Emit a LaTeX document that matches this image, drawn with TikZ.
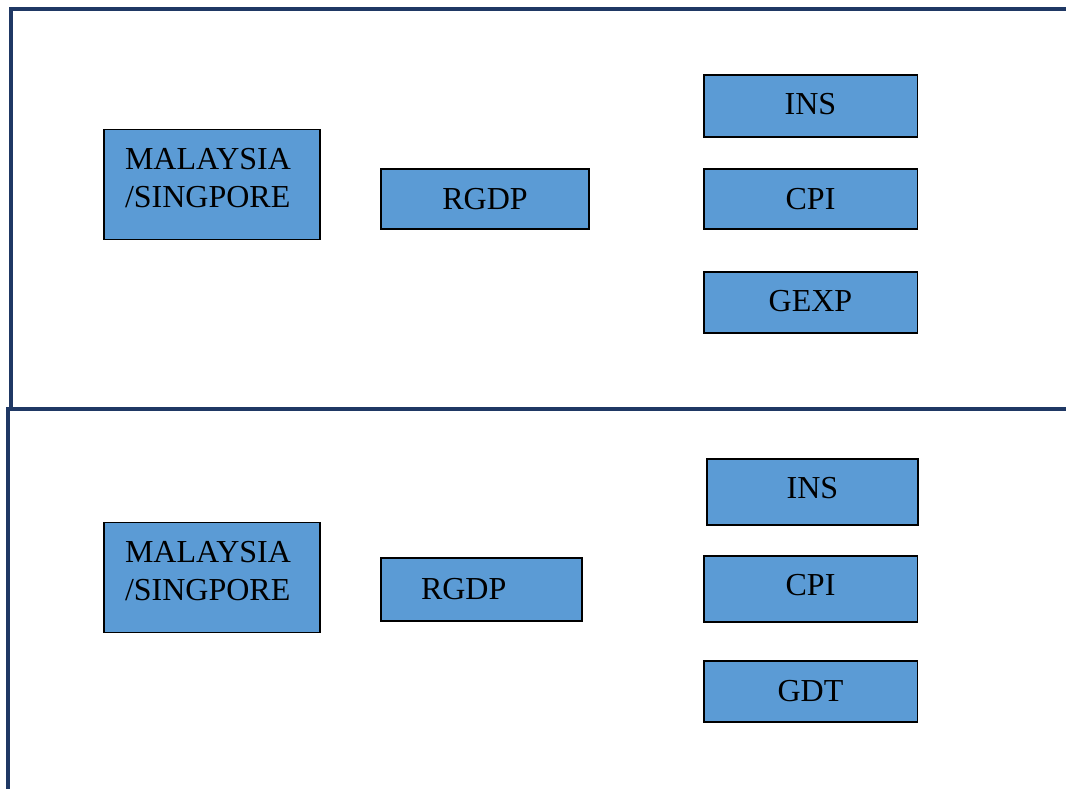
\documentclass[tikz,border=0pt]{standalone}
\usepackage{fontspec}
\setmainfont{Liberation Serif}
\definecolor{framenavy}{HTML}{1F3864}
\definecolor{boxblue}{HTML}{5B9BD5}

\begin{document}
\begin{tikzpicture}[
  x=0.75pt, y=-0.75pt,
  box/.style={draw=black, fill=boxblue, line width=1pt, align=center,
    inner sep=0pt, font=\fontsize{24}{28.5}\selectfont},
  country/.style={box, align=left, text width=130.5pt, text depth=38.5pt,
    minimum width=162pt, minimum height=82.5pt},
  var/.style={box, minimum width=160pt, minimum height=46.5pt},
  frame/.style={draw=framenavy, line width=2.4pt}
]
\useasboundingbox (0,0) rectangle (1066,789);

% frames
\draw[frame] (1066,9) -- (11,9) -- (11,409);
\draw[frame] (1066,409) -- (8,409) -- (8,789);

% upper model
\node[country] (malay1) at (212,184.5) {MALAYSIA\\/SINGPORE};
\node[box, minimum width=156pt, minimum height=45pt] (rgdp1) at (485,199) {RGDP};
\node[var, text depth=3pt] (ins1) at (810.5,106) {INS};
\node[var, minimum height=45pt] (cpi1) at (810.5,199) {CPI};
\node[var, text depth=3pt, minimum height=45.75pt] (gexp1) at (810.5,302.5) {GEXP};

% lower model
\node[country] (malay2) at (212,577.5) {MALAYSIA\\/SINGPORE};
\node[box, align=left, text width=90.75pt, minimum width=150.75pt,
  minimum height=47.25pt] (rgdp2) at (481.5,589.5) {RGDP};
\node[var, text depth=6pt, minimum width=158.25pt, minimum height=49.5pt] (ins2) at (812.5,492) {INS};
\node[var, text depth=6pt, minimum height=49.5pt] (cpi2) at (810.5,589) {CPI};
\node[var, minimum height=45.75pt] (gdt2) at (810.5,691.5) {GDT};
\end{tikzpicture}
\end{document}
